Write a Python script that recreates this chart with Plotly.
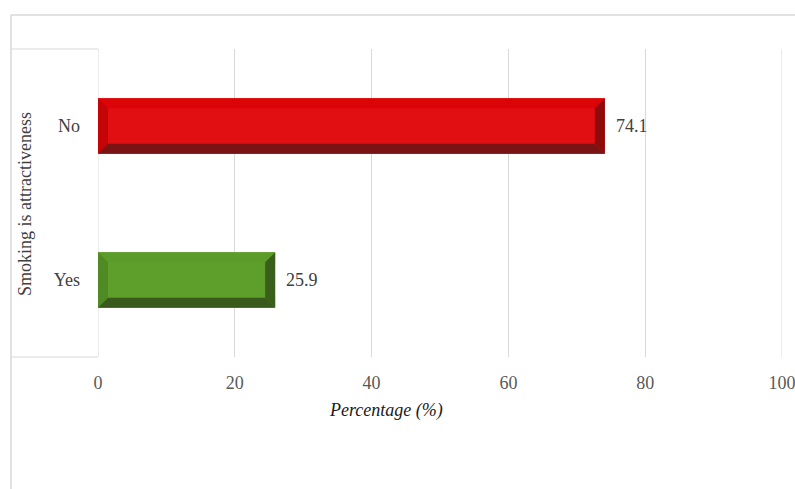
import plotly.graph_objects as go

categories = ["Yes", "No"]
values = [25.9, 74.1]
face_colors = ["#5E9E2B", "#E10E12"]
top_colors = ["#5C9C2A", "#DC0407"]
left_colors = ["#4F8A25", "#C50406"]
right_colors = ["#3A5E1C", "#8E0A0B"]
bottom_colors = ["#395A1B", "#7A1414"]
x_ticks = [0, 20, 40, 60, 80, 100]

W, H = 795, 489
L, R, T, B = 98, 13, 49, 132
plot_w = W - L - R
plot_h = H - T - B
xr = (0, 100)
yr = (-0.5, 1.5)
bar_w = 0.36
bev_px = 10
dx = bev_px * (xr[1] - xr[0]) / plot_w
dy = bev_px * (yr[1] - yr[0]) / plot_h
FONT = "Liberation Serif"
FS = 18

fig = go.Figure()
ypos = list(range(len(categories)))
fig.add_trace(go.Bar(
    x=values, y=ypos, orientation="h", width=bar_w,
    marker=dict(color=face_colors, line=dict(width=0)),
    hoverinfo="skip", showlegend=False,
))

h = bar_w / 2
for i, (v, yc) in enumerate(zip(values, ypos)):
    polys = [
        ([0, v, v - dx, dx, 0], [yc + h, yc + h, yc + h - dy, yc + h - dy, yc + h], top_colors[i]),
        ([0, 0, dx, dx, 0], [yc - h, yc + h, yc + h - dy, yc - h + dy, yc - h], left_colors[i]),
        ([v, v, v - dx, v - dx, v], [yc - h, yc + h, yc + h - dy, yc - h + dy, yc - h], right_colors[i]),
        ([0, v, v - dx, dx, 0], [yc - h, yc - h, yc - h + dy, yc - h + dy, yc - h], bottom_colors[i]),
    ]
    for px, py, c in polys:
        fig.add_trace(go.Scatter(
            x=px, y=py, mode="lines", fill="toself", fillcolor=c,
            line=dict(width=0, color=c), hoverinfo="skip", showlegend=False,
        ))
    fig.add_annotation(
        x=v, y=yc, text=f"{v:.1f}", showarrow=False, xanchor="left", xshift=9,
        font=dict(family=FONT, size=FS, color="#404040"),
    )

grid = "#D9D9D9"
px2x = lambda p: (p - L) / plot_w
px2y = lambda p: (H - B - p) / plot_h
shapes = [
    dict(type="line", xref="paper", yref="paper", x0=px2x(11), x1=px2x(W + 5), y0=px2y(15), y1=px2y(15),
         line=dict(color=grid, width=1.5), layer="below"),
    dict(type="line", xref="paper", yref="paper", x0=px2x(11), x1=px2x(11), y0=px2y(15), y1=px2y(H + 5),
         line=dict(color=grid, width=1.5), layer="below"),
    dict(type="line", xref="paper", yref="paper", x0=px2x(11), x1=0, y0=1, y1=1, line=dict(color=grid, width=1),
         layer="below"),
    dict(type="line", xref="paper", yref="paper", x0=px2x(11), x1=0, y0=0, y1=0, line=dict(color=grid, width=1),
         layer="below"),
]
for xv in (xr[0], xr[1]):
    shapes.append(dict(type="line", xref="x", yref="paper", x0=xv, x1=xv, y0=0, y1=1,
                       line=dict(color=grid, width=1), layer="below"))

fig.update_layout(
    width=W, height=H,
    margin=dict(l=L, r=R, t=T, b=B, autoexpand=False),
    paper_bgcolor="white", plot_bgcolor="white",
    shapes=shapes,
    barmode="overlay",
    xaxis=dict(range=list(xr), tickvals=x_ticks, showgrid=True, gridcolor=grid, gridwidth=1,
               zeroline=False, showline=False, ticks="", ticklabelstandoff=13, automargin=False,
               ticklabeloverflow="allow",
               tickfont=dict(family=FONT, size=FS, color="#595959")),
    yaxis=dict(range=list(yr), tickvals=ypos, ticktext=categories, showgrid=False, zeroline=False,
               showline=False, ticks="", ticklabelstandoff=17, automargin=False,
               tickfont=dict(family=FONT, size=FS, color="#404040")),
)

fig.add_annotation(
    xref="paper", yref="paper", x=px2x(386), y=px2y(410), text="<i>Percentage (%)</i>",
    showarrow=False, xanchor="center", yanchor="middle",
    font=dict(family=FONT, size=FS, color="#1a1a1a"),
)
fig.add_annotation(
    xref="paper", yref="paper", x=px2x(25), y=px2y(204), text="Smoking is attractiveness",
    textangle=-90, showarrow=False, xanchor="center", yanchor="middle",
    font=dict(family=FONT, size=FS, color="#404040"),
)

fig.write_html("out.html")
